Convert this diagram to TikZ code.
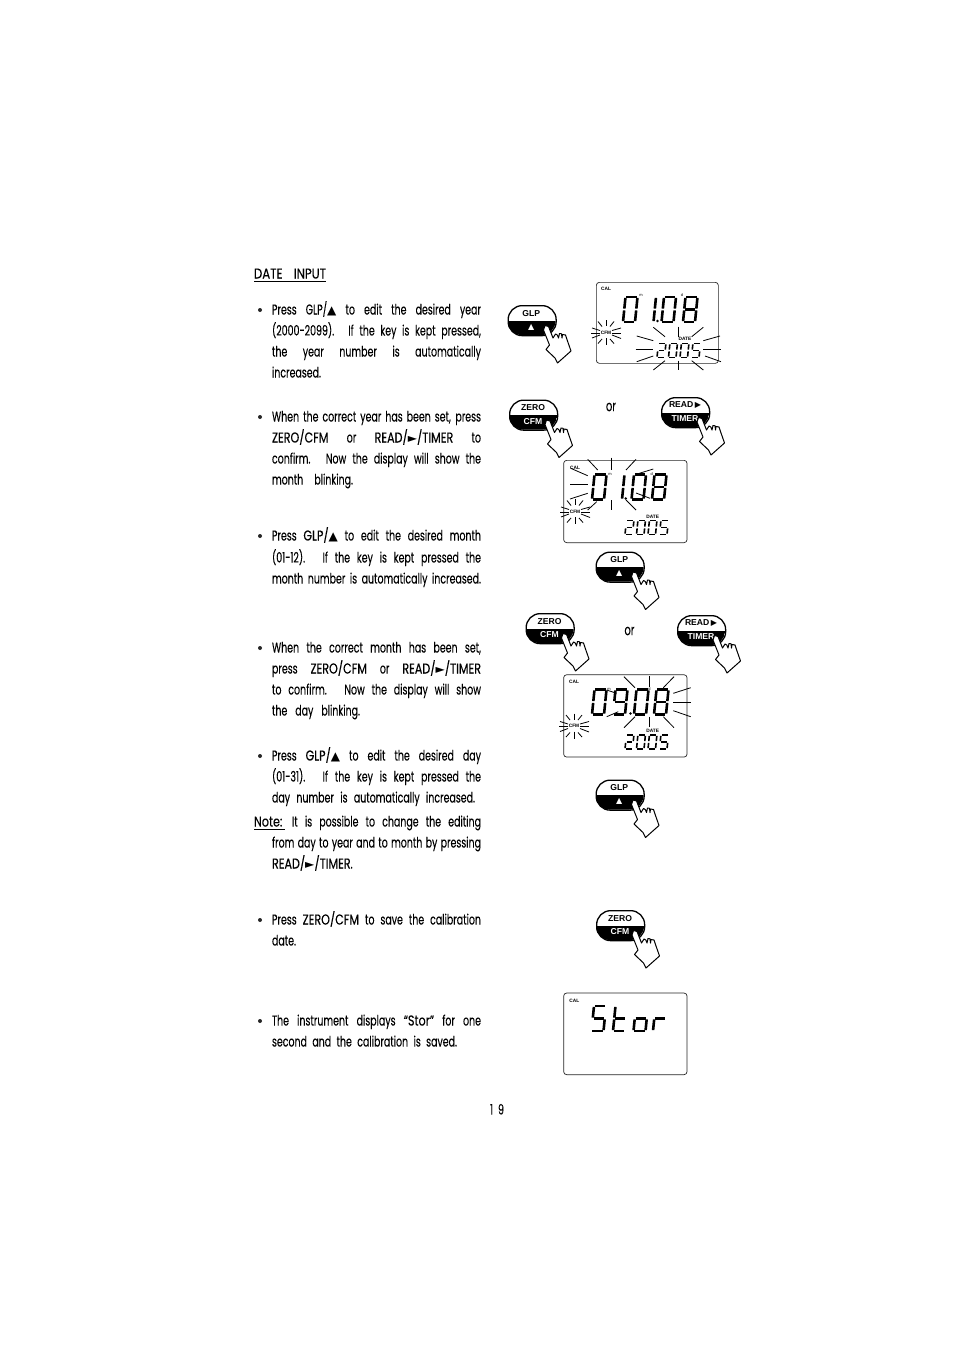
\documentclass[tikz,border=0pt]{standalone}
\usepackage{fontspec}
\usepackage{graphicx}
\setmainfont[FakeStretch=0.66,FakeBold=0.05,WordSpace=0.75]{Poppins}
\newfontfamily\kwf[FakeStretch=0.78,FakeBold=0.25]{Poppins}
\newfontfamily\headf[FakeStretch=0.82,FakeBold=0.12]{Poppins}
\newfontfamily\djf{DejaVu Sans}
\newfontfamily\btnf{Liberation Sans}
\newcommand{\kw}[1]{{\kwf #1}}
\newcommand{\uptri}{{\djf\fontsize{12}{12}\selectfont ▲}}
\newcommand{\rttri}{{\djf\fontsize{12}{12}\selectfont ►}}
\tikzset{
  txt/.style={inner sep=0pt,outer sep=0pt,anchor=base west,font=\fontsize{14.3}{16}\selectfont,text=black},
  blt/.style={circle,fill=black!85,inner sep=0pt,minimum size=4pt},
  rule/.style={line width=0.8pt,black},
  lcd/.style={draw=black!85,line width=0.7pt,rounded corners=3pt,fill=white,inner sep=0pt,anchor=north west},
  tag/.style={font=\btnf\bfseries\fontsize{4.8}{5}\selectfont,inner sep=0pt,text=black},
  unit/.style={font=\btnf\fontsize{4}{4}\selectfont,inner sep=0pt,text=black},
  ray/.style={line width=0.8pt,black},
  pill/.style={draw=black,line width=1.3pt,fill=white,rounded corners=14pt,minimum width=48pt,minimum height=30pt,inner sep=0pt,anchor=north west},
  btxt/.style={font=\btnf\bfseries\fontsize{8.6}{9}\selectfont,inner sep=0pt},
  hand/.style={draw=black,line width=1pt,fill=white,line join=round}
}
% body text lines
\newcommand{\jl}[5]{\node[txt] (#1) at (#2,#3+4.5) {\makebox[#4pt][s]{#5}};}
\newcommand{\pl}[4]{\node[txt] (#1) at (#2,#3+4.5) {#4};}
\newcommand{\bul}[2]{\node[blt] (#1) at (260,#2) {};}
% seven segment digits
\def\dZ{a,b,c,d,e,f}\def\dO{b,c}\def\dT{a,b,g,e,d}\def\dF{a,f,g,c,d}\def\dN{a,b,c,d,f,g}\def\dE{a,b,c,d,e,f,g}
\newcommand{\sgs}[6]{%
  \begin{scope}[shift={(#1,#2)},xslant=0.1,line width=#5pt,black]
    \def\dW{#3}\def\dH{#4}\def\dG{0.9}
    \edef\sglist{#6}
    \foreach \s in \sglist {\csname sg\s\endcsname}
  \end{scope}}
\newcommand{\sga}{\draw ({\dG},{-\dH})--({\dW-\dG},{-\dH});}
\newcommand{\sgb}{\draw ({\dW},{-\dH+\dG})--({\dW},{-\dH/2-\dG});}
\newcommand{\sgc}{\draw ({\dW},{-\dH/2+\dG})--({\dW},{-\dG});}
\newcommand{\sgd}{\draw ({\dG},0)--({\dW-\dG},0);}
\newcommand{\sge}{\draw (0,{-\dH/2+\dG})--(0,{-\dG});}
\newcommand{\sgf}{\draw (0,{-\dH+\dG})--(0,{-\dH/2-\dG});}
\newcommand{\sgg}{\draw ({\dG},{-\dH/2})--({\dW-\dG},{-\dH/2});}
\newcommand{\bigd}[3]{\sgs{#1}{#2}{12}{25}{2.6}{#3}}
\newcommand{\smalld}[3]{\sgs{#1}{#2}{7.5}{14}{1.6}{#3}}
% blinking CFM rays
\newcommand{\cfmrays}[2]{%
  \begin{scope}[shift={(#1,#2)},ray]
    \draw (-15,0)--(-6,0); \draw (6,0)--(15,0);
    \draw (0,-13)--(0,-7); \draw (0,5)--(0,12);
    \draw (-8,-11.5)--(-4,-6.5); \draw (4,-6.5)--(8,-11.5);
    \draw (-14,-5)--(-6,-2.5); \draw (6,-2.5)--(15,-5);
    \draw (-14,5)--(-6,2); \draw (6,2)--(15,5.5);
    \draw (-8,10.5)--(-4,6); \draw (4,6)--(8,10.5);
  \end{scope}}
% key with pressing hand
\newcommand{\pressbtn}[6]{%
  \begin{scope}[shift={(#2,#3)}]
    \node[pill] (#1) at (0,0) {};
    \begin{scope}
      \clip[rounded corners=14pt] (0,0) rectangle (48,30);
      \fill[black] (0,15.5) rectangle (48,30);
    \end{scope}
    \node[btxt,text=black] (#1t) at (#5,8.3) {#4};
    \node[btxt,text=white] (#1b) at (#5,22) {#6};
    \draw[hand] (37.5,20.5) -- (41,21.5) -- (45.5,33) -- (48,29)
       .. controls (49.5,29) and (50.5,30.5) .. (51,33) -- (52,28.5) -- (54,28.8) -- (54.5,33)
       -- (55,29.5) -- (58,30) -- (60,36) -- (63.5,46) -- (50,58) -- (47.5,53)
       -- (38.5,44.5) -- (42,40) -- (36,25) -- cycle;
  \end{scope}}
\begin{document}
\begin{tikzpicture}[x=1pt,y=-1pt]
\useasboundingbox (0,0) rectangle (954,1351);
\fill[white] (0,0) rectangle (954,1351);
% heading
\node[txt] (head) at (254,278.5) {\makebox[72pt][s]{\headf DATE INPUT}};
\draw[rule] (254,281.5)--(326,281.5);
% paragraph 1
\bul{b1}{310}
\jl{l1}{272}{310}{209}{Press GLP/\uptri{} to edit the desired year}
\jl{l2}{272}{331}{209}{(2000-2099). If the key is kept pressed,}
\jl{l3}{272}{352}{209}{the year number is automatically}
\pl{l4}{272}{373}{increased.}
% paragraph 2
\bul{b2}{417}
\jl{l5}{272}{417}{209}{When the correct year has been set, press}
\jl{l6}{272}{438}{209}{\kw{ZERO/CFM} or \kw{READ/\rttri/TIMER} to}
\jl{l7}{272}{459}{209}{confirm. Now the display will show the}
\jl{l8}{272}{480}{81}{month blinking.}
% paragraph 3
\bul{b3}{536}
\jl{l9}{272}{536}{209}{Press \kw{GLP/\uptri} to edit the desired month}
\jl{l10}{272}{558}{209}{(01-12). If the key is kept pressed the}
\jl{l11}{272}{579}{209}{month number is automatically increased.}
% paragraph 4
\bul{b4}{648}
\jl{l12}{272}{648}{209}{When the correct month has been set,}
\jl{l13}{272}{669}{209}{press \kw{ZERO/CFM} or \kw{READ/\rttri/TIMER}}
\jl{l14}{272}{690}{209}{to confirm. Now the display will show}
\jl{l15}{272}{711}{88}{the day blinking.}
% paragraph 5
\bul{b5}{756}
\jl{l16}{272}{756}{209}{Press \kw{GLP/\uptri} to edit the desired day}
\jl{l17}{272}{777}{209}{(01-31). If the key is kept pressed the}
\jl{l18}{272}{798}{203}{day number is automatically increased.}
\pl{n0}{254}{822}{\kw{Note:}}
\draw[rule] (254,829.5)--(285,829.5);
\jl{l19}{292}{822}{189}{It is possible to change the editing}
\jl{l20}{272}{843}{209}{from day to year and to month by pressing}
\pl{l21}{272}{864}{\kw{READ/\rttri/TIMER}.}
% paragraph 6
\bul{b6}{920}
\jl{l22}{272}{920}{209}{Press \kw{ZERO/CFM} to save the calibration}
\pl{l23}{272}{941}{date.}
% paragraph 7
\bul{b7}{1021}
\jl{l24}{272}{1021}{209}{The instrument displays \kw{“Stor”} for one}
\jl{l25}{272}{1042}{185}{second and the calibration is saved.}
\node[txt] (page) at (490,1114.5) {\makebox[14pt][s]{1\hfil 9}};
% or
\node[txt,anchor=center,font=\fontsize{15}{16}\selectfont] (or1) at (611,407) {or};
\node[txt,anchor=center,font=\fontsize{15}{16}\selectfont] (or2) at (629.5,631) {or};

% display 1
\node[lcd,minimum width=122pt,minimum height=81pt] (d1) at (596,282) {};
\node[tag] (d1cal) at (606,289) {CAL};
\node[tag] (d1cfm) at (606,332.5) {CFM};
\node[tag] (d1date) at (685,338.5) {DATE};
\node[unit] (d1m) at (641,295) {m};
\node[unit] (d1d) at (682,295) {d};
\bigd{623}{322}{\dZ}\bigd{641.5}{322}{\dO}\bigd{661.5}{322}{\dZ}\bigd{683}{322}{\dE}
\fill (657.5,321) circle (1.4);
\smalld{657}{357.5}{\dT}\smalld{668.5}{357.5}{\dZ}\smalld{680}{357.5}{\dZ}\smalld{691.5}{357.5}{\dF}
\cfmrays{606}{333}
\foreach \a/\b/\c/\d in {653.3/327.3/665/336.7,678.3/326.7/678.3/336.7,703.3/327.3/691.7/336.7,636.7/336/653.3/340.7,703.3/340.7/720/336,635.7/349.3/653.3/349.3,703.3/349.3/721/349.3,636.7/361.7/653.3/356,705/356/721/361.7,653.3/370/665/360.7,678.3/360.7/678.3/370,691.7/360.7/703.3/370}
  {\draw[ray] (\a,\b)--(\c,\d);}

% display 2
\node[lcd,minimum width=123.4pt,minimum height=82.3pt] (d2) at (563.3,460) {};
\node[tag] (d2cal) at (575,468) {CAL};
\node[tag] (d2cfm) at (575,511.7) {CFM};
\node[tag] (d2date) at (652.7,516.7) {DATE};
\node[unit] (d2m) at (610,474) {m};
\node[unit] (d2d) at (651.7,474) {d};
\bigd{592}{499.5}{\dZ}\bigd{610}{499.5}{\dO}\bigd{631.5}{499.5}{\dZ}\bigd{652}{499.5}{\dE}
\fill (625.7,498.5) circle (1.4);
\smalld{625}{534.5}{\dT}\smalld{636.5}{534.5}{\dZ}\smalld{648}{534.5}{\dZ}\smalld{659.5}{534.5}{\dF}
\cfmrays{575}{512}
\foreach \a/\b/\c/\d in {587.7/459.3/597.7/470,611.7/457.7/611.7/470,636/459.3/626/470,570.7/468.3/587.7/475.7,570/484.3/587.7/484.3,570/499/587.7/493.3,587.7/510/596.7/501.7,611.7/500/611.7/510,626/500/636/510,639.3/473.3/653.3/469,636/493/650/498.3}
  {\draw[ray] (\a,\b)--(\c,\d);}

% display 3
\node[lcd,minimum width=123.4pt,minimum height=82.3pt] (d3) at (563.3,674.4) {};
\node[tag] (d3cal) at (574,682) {CAL};
\node[tag] (d3cfm) at (574,726) {CFM};
\node[tag] (d3date) at (652.7,731) {DATE};
\node[unit] (d3m) at (609,689) {m};
\node[unit] (d3d) at (649.5,689) {d};
\bigd{592}{714.5}{\dZ}\bigd{613}{714.5}{\dN}\bigd{634}{714.5}{\dZ}\bigd{654}{714.5}{\dE}
\fill (630.5,713.5) circle (1.4);
\smalld{625}{749}{\dT}\smalld{636.5}{749}{\dZ}\smalld{648}{749}{\dZ}\smalld{659.5}{749}{\dF}
\cfmrays{574}{726.5}
\foreach \a/\b/\c/\d in {624/676.7/635/687.7,649/676/649/686.7,674/676.7/663.3/687.7,606.7/690/616.7/693.3,606.7/716.7/618.3/711.7,673.3/693.3/690.7/687.7,673.3/702.3/690.7/702.3,673.3/710.7/690.7/716.7,624/727.7/635/716.7,649/716.7/649/727.3,663.3/716.7/674/727.7}
  {\draw[ray] (\a,\b)--(\c,\d);}

% display 4
\node[lcd,minimum width=123.4pt,minimum height=81.6pt] (d4) at (563.3,992.7) {};
\node[tag] (d4cal) at (574.3,1001) {CAL};
\bigd{591.5}{1031}{\dF}
\bigd{613}{1031}{f,e,g,d}
\bigd{633.5}{1031}{c,d,e,g}
\bigd{653}{1031}{e,g}

% keys
\pressbtn{k1}{507.5}{305}{GLP}{23.7}{\djf\fontsize{8}{8}\selectfont ▲}
\pressbtn{k2}{509}{399.5}{ZERO}{24}{CFM}
\pressbtn{k3}{661}{397}{READ\,{\djf\fontsize{8}{8}\selectfont ▶}}{24}{TIMER}
\pressbtn{k4}{595.5}{551.5}{GLP}{23.7}{\djf\fontsize{8}{8}\selectfont ▲}
\pressbtn{k5}{525.5}{613}{ZERO}{24}{CFM}
\pressbtn{k6}{677}{615}{READ\,{\djf\fontsize{8}{8}\selectfont ▶}}{24}{TIMER}
\pressbtn{k7}{595.5}{779.5}{GLP}{23.7}{\djf\fontsize{8}{8}\selectfont ▲}
\pressbtn{k8}{596}{910}{ZERO}{24}{CFM}
\end{tikzpicture}
\end{document}
